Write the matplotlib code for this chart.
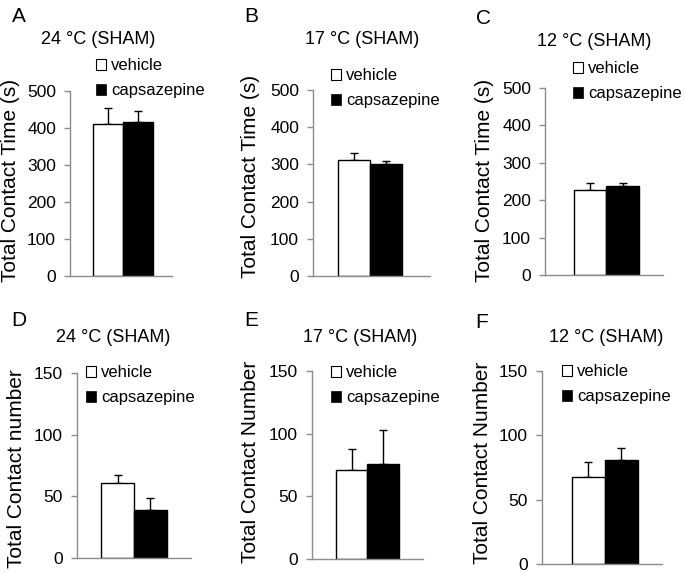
import matplotlib
matplotlib.use("Agg")
import matplotlib.pyplot as plt
from matplotlib.patches import Patch

plt.rcParams['font.family'] = ['Liberation Sans', 'DejaVu Sans']

W, H = 685, 573

groups = ['vehicle', 'capsazepine']
panel_letters = ['A', 'B', 'C', 'D', 'E', 'F']
titles = ['24 °C (SHAM)', '17 °C (SHAM)', '12 °C (SHAM)',
          '24 °C (SHAM)', '17 °C (SHAM)', '12 °C (SHAM)']
ylabels = ['Total Contact Time (s)'] * 3 + ['Total Contact number',
           'Total Contact Number', 'Total Contact Number']

# means and upper error (SEM)
time_means = [[412, 415], [312, 302], [228, 238]]
time_errs = [[42, 30], [19, 8], [19, 7]]
num_means = [[61, 39], [71, 76], [68, 81]]
num_errs = [[6, 10], [17, 27], [11, 9]]

means = time_means + num_means
errs = time_errs + num_errs
ymax = [500, 500, 500, 150, 150, 150]
ystep = [100, 100, 100, 50, 50, 50]

# layout in pixels: axes (left, right, top, bottom)
axbox = [(70, 172, 91, 276), (313, 430, 90, 276), (545, 663, 88, 275),
         (77, 191, 373, 558), (312, 423, 371, 559), (542, 662, 371, 564)]
xlims = [(-1.27, 2.13), (-1.28, 2.37), (-1.39, 2.24),
         (-1.23, 2.23), (-1.26, 2.26), (-1.41, 2.23)]
letter_pos = [(19, 16), (251, 16), (483, 18), (19, 321), (251, 321), (482, 322)]
title_pos = [(98, 39), (362, 40), (594, 42), (113, 337), (360, 337), (606, 337)]
ylab_pos = [(11, 180), (251, 176), (484, 180), (17, 469), (251, 462), (482, 463)]
leg_pos = [(96, 58), (331, 68), (573, 61), (86, 365), (331, 365), (562, 364)]

axcol = '#8c8c8c'
fig = plt.figure(figsize=(W / 100, H / 100), dpi=100)

for i in range(6):
    l, r, t, b = axbox[i]
    ax = fig.add_axes([l / W, 1 - b / H, (r - l) / W, (b - t) / H])
    ax.bar([0, 1], means[i], width=1.0, color=['white', 'black'],
           edgecolor='black', linewidth=1.0, zorder=2)
    ax.errorbar([0, 1], means[i], yerr=[[0, 0], errs[i]], fmt='none',
                ecolor='black', elinewidth=1.0, capsize=3.2, capthick=1.0, zorder=1)
    ax.set_xlim(*xlims[i])
    ax.set_ylim(0, ymax[i])
    ax.set_yticks(range(0, ymax[i] + 1, ystep[i]))
    ax.set_xticks([])
    for s in ['top', 'right']:
        ax.spines[s].set_visible(False)
    for s in ['left', 'bottom']:
        ax.spines[s].set_color(axcol)
        ax.spines[s].set_linewidth(1.0)
    ax.tick_params(axis='y', direction='out', length=4, width=1.0, color=axcol,
                   pad=6, labelsize=12.5)
    ax.patch.set_alpha(0)

    handles = [Patch(facecolor='white', edgecolor='black', linewidth=0.8),
               Patch(facecolor='black', edgecolor='black', linewidth=0.5)]
    lx, ly = leg_pos[i]
    ax.legend(handles, groups, loc='upper left', bbox_to_anchor=(lx / W, 1 - ly / H),
              bbox_transform=fig.transFigure, frameon=False, borderpad=0,
              borderaxespad=0, handlelength=0.62, handleheight=0.62,
              handletextpad=0.3, labelspacing=0.62, fontsize=12)

    x, y = letter_pos[i]
    fig.text(x / W, 1 - y / H, panel_letters[i], fontsize=15, ha='center', va='center')
    x, y = title_pos[i]
    fig.text(x / W, 1 - y / H, titles[i], fontsize=13, ha='center', va='center')
    x, y = ylab_pos[i]
    fig.text(x / W, 1 - y / H, ylabels[i], fontsize=15, rotation=90,
             ha='center', va='center')

fig.savefig('out.png', dpi=100)
